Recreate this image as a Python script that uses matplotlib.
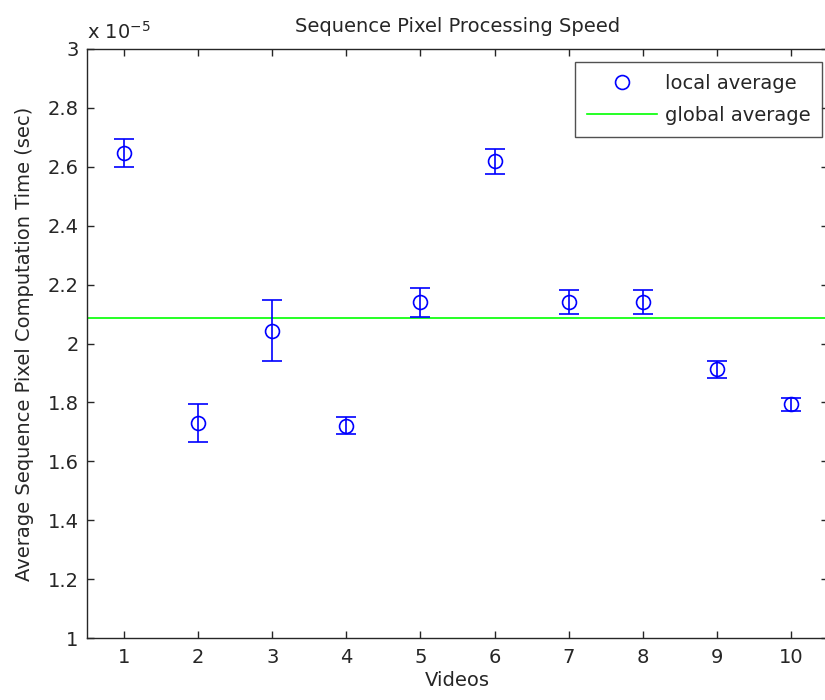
import matplotlib
matplotlib.use("Agg")
import matplotlib.pyplot as plt
from matplotlib.lines import Line2D
from matplotlib.ticker import FuncFormatter

plt.rcParams['font.family'] = ['DejaVu Sans']

videos = [1, 2, 3, 4, 5, 6, 7, 8, 9, 10]
local_avg = [2.647, 1.729, 2.043, 1.721, 2.140, 2.618, 2.140, 2.140, 1.912, 1.794]  # x 1e-5 sec
errors = [0.047, 0.065, 0.104, 0.028, 0.050, 0.044, 0.041, 0.041, 0.030, 0.022]
global_avg = 2.086
x_ticks = [1, 2, 3, 4, 5, 6, 7, 8, 9, 10]
y_ticks = [1, 1.2, 1.4, 1.6, 1.8, 2, 2.2, 2.4, 2.6, 2.8, 3]

W, H = 825, 700
fig = plt.figure(figsize=(W / 100, H / 100), dpi=100)
ax = fig.add_axes([87/W, 1 - 638/H, (828 - 87)/W, (638 - 49)/H])

blue = (0, 0, 1)
green = (0, 1, 0)
tc = '#262626'
ax.errorbar(videos, local_avg, yerr=errors, fmt='o', mfc='none', mec=blue, color=blue,
            ms=10, mew=1.2, elinewidth=1.2, capsize=7.5, capthick=1.2, zorder=3)
ax.axhline(global_avg, color=green, lw=1.2, zorder=2)

ax.set_xlim(0.5, 10.5)
ax.set_ylim(1, 3)
ax.set_xticks(x_ticks)
ax.set_yticks(y_ticks)
ax.yaxis.set_major_formatter(FuncFormatter(lambda v, p: '%g' % round(v, 2)))
ax.tick_params(direction='in', top=True, right=True, length=5, width=1, labelsize=14, colors=tc)
ax.tick_params(axis='x', pad=7)
ax.tick_params(axis='y', pad=6)
for s in ax.spines.values():
    s.set_color(tc)
    s.set_linewidth(1)

ax.set_title('Sequence Pixel Processing Speed', fontsize=14, color=tc, pad=12)
ax.set_xlabel('Videos', fontsize=14, color=tc, labelpad=3)
ax.set_ylabel('Average Sequence Pixel Computation Time (sec)', fontsize=14, color=tc, labelpad=10)
fig.text(87/W, 1 - 32/H, r'x 10$^{-5}$', fontsize=14, color=tc, va='center', ha='left')

handles = [Line2D([], [], ls='none', marker='o', mfc='none', mec=blue, ms=10, mew=1.2),
           Line2D([], [], color=green, lw=1.2)]
labels = ['local average', 'global average']
leg = fig.legend(handles, labels, loc='upper right', fontsize=14, frameon=True, fancybox=False,
                 edgecolor=tc, borderpad=0.6, labelspacing=0.7, handlelength=3.6, handletextpad=0.4,
                 borderaxespad=0, bbox_to_anchor=(822/W, 1 - 62/H))
leg.get_frame().set_linewidth(1)
for t in leg.get_texts():
    t.set_color(tc)

fig.savefig('out.png', dpi=100, facecolor='white')
